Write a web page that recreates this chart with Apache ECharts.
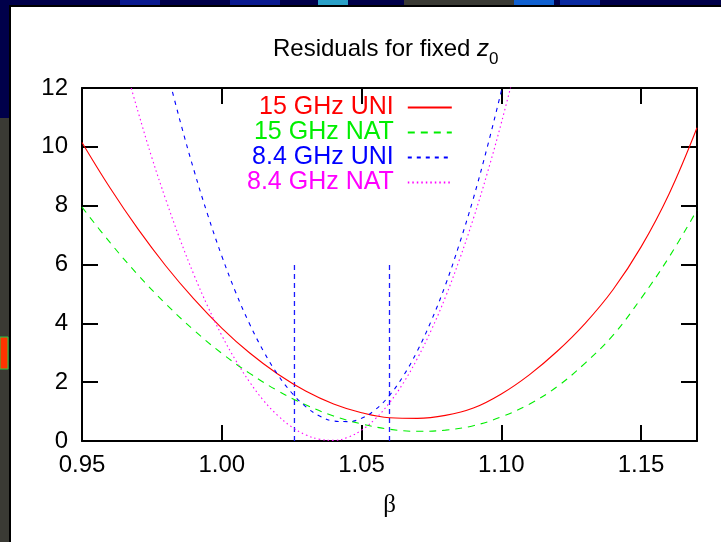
<!DOCTYPE html>
<html>
<head>
<meta charset="utf-8">
<script src="https://cdn.jsdelivr.net/npm/echarts@6/dist/echarts.min.js"></script>
<style>html,body{margin:0;padding:0;background:#fff}#c{width:721px;height:542px}</style>
</head>
<body>
<div id="c"></div>
<script>
// ---- data ----
const seriesNames = ['15 GHz UNI', '15 GHz NAT', '8.4 GHz UNI', '8.4 GHz NAT'];
const xTicks = [0.95, 1.00, 1.05, 1.10, 1.15];
const yTicks = [0, 2, 4, 6, 8, 10, 12];

const beta15 = [0.95,0.96,0.97,0.98,0.99,1.00,1.01,1.02,1.03,1.04,1.05,1.06,1.07,1.08,1.09,1.10,1.11,1.12,1.13,1.14,1.15,1.16,1.17];
const res15Uni = [10.15,8.61,7.21,5.95,4.83,3.84,2.99,2.28,1.70,1.26,0.96,0.79,0.77,0.87,1.12,1.60,2.25,3.05,4.00,5.15,6.60,8.40,10.65];
const res15Nat = [7.95,6.75,5.65,4.66,3.77,2.98,2.30,1.71,1.23,0.85,0.58,0.40,0.33,0.37,0.52,0.82,1.25,1.85,2.65,3.60,4.85,6.25,7.85];

const beta84Uni = [0.980,0.985,0.990,0.995,1.000,1.005,1.010,1.015,1.020,1.025,1.030,1.035,1.040,1.045,1.050,1.055,1.060,1.065,1.070,1.075,1.080,1.085,1.090,1.095,1.100,1.105];
const res84Uni = [12.75,10.91,9.22,7.68,6.29,5.05,3.97,3.04,2.26,1.64,1.17,0.85,0.68,0.66,0.77,1.07,1.55,2.22,3.07,4.10,5.30,6.70,8.25,10.00,11.90,13.90];

const beta84Nat = [0.965,0.970,0.975,0.980,0.985,0.990,0.995,1.000,1.005,1.010,1.015,1.020,1.025,1.030,1.035,1.040,1.045,1.050,1.055,1.060,1.065,1.070,1.075,1.080,1.085,1.090,1.095,1.100,1.105];
const res84Nat = [12.87,11.21,9.63,8.20,6.87,5.66,4.57,3.59,2.74,2.00,1.37,0.87,0.48,0.21,0.06,0.02,0.12,0.37,0.76,1.30,1.98,2.81,3.78,4.89,6.16,7.56,9.11,10.81,12.65];

const markerBeta = [1.026, 1.060];
const markerHeight = 6;

// ---- chart ----
const zip = (xs, ys) => xs.map((x, i) => [x, ys[i]]);
const FONT = 'Liberation Sans';
const colors = ['#ff0000', '#00ee00', '#0000ff', '#ff00ff'];
const dashes = ['solid', [7, 6], [4, 5], [1.5, 3]];

const chart = echarts.init(document.getElementById('c'), null, {renderer: 'canvas'});

const lineSeries = [
  zip(beta15, res15Uni), zip(beta15, res15Nat), zip(beta84Uni, res84Uni), zip(beta84Nat, res84Nat)
].map((d, i) => ({
  name: seriesNames[i], type: 'line', data: d, showSymbol: false, symbol: 'none',
  smooth: 0.4, clip: true, z: 3 + i,
  lineStyle: {color: colors[i], width: 1.1, type: dashes[i]},
  itemStyle: {color: colors[i]}
}));

const markerSeries = markerBeta.map((b, i) => ({
  name: 'marker' + i, type: 'line', data: [[b, 0], [b, markerHeight]],
  showSymbol: false, symbol: 'none', z: 2, color: '#0000ff',
  itemStyle: {color: '#0000ff'},
  lineStyle: {color: '#1a1aff', width: 1.3, type: [5, 4]}
}));

const axisCommon = {
  type: 'value', splitLine: {show: false},
  axisLine: {show: true, onZero: false, lineStyle: {color: '#000', width: 2}},
  axisTick: {show: true, inside: true, length: 16, lineStyle: {color: '#000', width: 2}}
};

chart.setOption({
  backgroundColor: '#ffffff',
  animation: false,
  title: {
    text: '{a|Residuals for fixed }{z|z}{s|0}',
    left: 268, top: 32,
    textStyle: {
      fontWeight: 'normal',
      rich: {
        a: {fontSize: 24, fontFamily: FONT, fontWeight: 'normal', color: '#000', verticalAlign: 'top', lineHeight: 28},
        z: {fontSize: 24, fontFamily: FONT, fontWeight: 'normal', fontStyle: 'italic', color: '#000', verticalAlign: 'top', lineHeight: 28},
        s: {fontSize: 17, fontFamily: FONT, fontWeight: 'normal', color: '#000', verticalAlign: 'top', lineHeight: 20, padding: [14, 0, 0, 0]}
      }
    }
  },
  legend: {
    orient: 'vertical', left: 242, top: 90,
    align: 'right', itemWidth: 44, itemHeight: 14, itemGap: 0,
    selectedMode: false,
    itemStyle: {opacity: 0},
    data: seriesNames.map((n, i) => ({name: n, textStyle: {color: colors[i]}})),
    textStyle: {fontSize: 25, fontFamily: FONT, width: 136, align: 'right', lineHeight: 24.4, padding: [0, 9, 0, 0]}
  },
  grid: {left: 82, right: 24, top: 88, bottom: 101, containLabel: false},
  xAxis: [
    Object.assign({}, axisCommon, {
      position: 'bottom', min: 0.95, max: 1.17, interval: 0.05,
      name: 'β', nameLocation: 'middle', nameGap: 52,
      nameTextStyle: {fontSize: 25, fontFamily: 'Liberation Serif', color: '#000'},
      axisLabel: {show: true, margin: 12, fontSize: 24, fontFamily: FONT, color: '#000',
        showMaxLabel: false, formatter: v => (xTicks.some(t => Math.abs(t - v) < 1e-6) ? v.toFixed(2) : '')}
    }),
    Object.assign({}, axisCommon, {
      position: 'top', min: 0.95, max: 1.17, interval: 0.05, axisLabel: {show: false}
    })
  ],
  yAxis: [
    Object.assign({}, axisCommon, {
      position: 'left', min: 0, max: 12, interval: 2,
      axisLabel: {show: true, margin: 14, fontSize: 24, fontFamily: FONT, color: '#000',
        formatter: v => (yTicks.includes(v) ? String(v) : '')}
    }),
    Object.assign({}, axisCommon, {
      position: 'right', min: 0, max: 12, interval: 2, axisLabel: {show: false}
    })
  ],
  series: markerSeries.concat(lineSeries),
  graphic: [
    {type: 'rect', shape: {x: 0, y: 0, width: 721, height: 5}, style: {fill: '#00004a'}, silent: true},
    {type: 'rect', shape: {x: 120, y: 0, width: 40, height: 5}, style: {fill: '#0a1a90'}, silent: true},
    {type: 'rect', shape: {x: 230, y: 0, width: 50, height: 5}, style: {fill: '#0a1a90'}, silent: true},
    {type: 'rect', shape: {x: 318, y: 0, width: 30, height: 5}, style: {fill: '#2aa0c8'}, silent: true},
    {type: 'rect', shape: {x: 404, y: 0, width: 110, height: 5}, style: {fill: '#3a3a34'}, silent: true},
    {type: 'rect', shape: {x: 514, y: 0, width: 40, height: 5}, style: {fill: '#1060d0'}, silent: true},
    {type: 'rect', shape: {x: 560, y: 0, width: 40, height: 5}, style: {fill: '#0a2aa0'}, silent: true},
    {type: 'rect', shape: {x: 9, y: 5, width: 712, height: 2}, style: {fill: '#000000'}, silent: true},
    {type: 'rect', shape: {x: 0, y: 0, width: 9, height: 118}, style: {fill: '#00004a'}, silent: true},
    {type: 'rect', shape: {x: 0, y: 118, width: 9, height: 424}, style: {fill: '#3a3a34'}, silent: true},
    {type: 'rect', shape: {x: 9, y: 5, width: 2, height: 537}, style: {fill: '#000000'}, silent: true},
    {type: 'rect', shape: {x: 0, y: 337, width: 8, height: 32}, style: {fill: '#ff3300', stroke: '#22cc44', lineWidth: 1}, silent: true}
  ]
});
</script>
</body>
</html>
